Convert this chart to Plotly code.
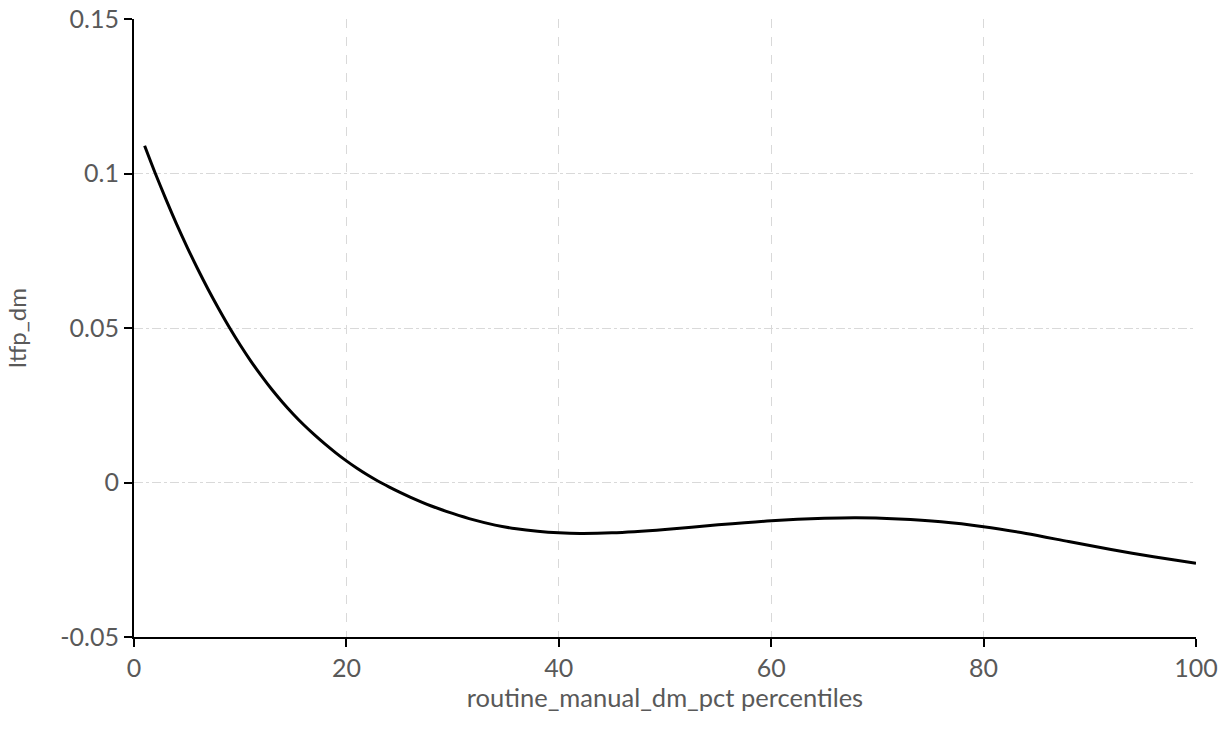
import plotly.graph_objects as go

pct = [1, 2, 3, 4, 5, 6, 7, 8, 9, 10, 11, 12, 13, 14, 15, 16, 17, 18, 19, 20,
       21, 22, 23, 24, 25, 26, 28, 30, 32, 34, 36, 38, 40, 42, 45, 50, 55,
       60, 65, 68, 72, 76, 80, 84, 88, 92, 96, 100]
ltfp = [0.1090, 0.1001, 0.0917, 0.0837, 0.0762, 0.0691, 0.0624, 0.0561, 0.0501,
        0.0445, 0.0393, 0.0345, 0.0300, 0.0259, 0.0221, 0.0186, 0.0154, 0.0124,
        0.0096, 0.0070, 0.0046, 0.0024, 0.0004, -0.0014, -0.0031, -0.0047,
        -0.0076, -0.0100, -0.0121, -0.0138, -0.0150, -0.0158, -0.0163,
        -0.0165, -0.0163, -0.0152, -0.0137, -0.0124, -0.0116, -0.0114, -0.0118,
        -0.0127, -0.0143, -0.0165, -0.0191, -0.0217, -0.0240, -0.0261]

x_ticks = [0, 20, 40, 60, 80, 100]
x_ticktext = ["0", "20", "40", "60", "80", "100"]
y_ticks = [-0.05, 0, 0.05, 0.1, 0.15]
y_ticktext = ["-0.05", "0", "0.05", "0.1", "0.15"]

font_family = "Lato, 'Open Sans', sans-serif"
grey = "#595959"

fig = go.Figure()
fig.add_trace(go.Scatter(x=pct, y=ltfp, mode="lines",
                         line=dict(color="black", width=3, shape="spline", smoothing=0.8),
                         showlegend=False, hoverinfo="skip"))

fig.update_layout(
    width=1225, height=739,
    margin=dict(l=134, r=29, t=19, b=102),
    paper_bgcolor="white", plot_bgcolor="white",
    font=dict(family=font_family, size=25, color=grey),
)
fig.update_xaxes(
    range=[0, 100], tickvals=x_ticks, ticktext=x_ticktext,
    automargin=False,
    showline=True, linecolor="black", linewidth=2,
    ticks="outside", ticklen=8, tickwidth=2, tickcolor="black",
    tickfont=dict(size=25, color=grey),
    showgrid=True, gridcolor="#d9d9d9", gridwidth=1, griddash="dash",
    zeroline=False,
    title=dict(text="routine_manual_dm_pct percentiles", standoff=8,
               font=dict(size=25.5, color=grey)),
)
fig.update_yaxes(
    range=[-0.05, 0.15], tickvals=y_ticks, ticktext=y_ticktext,
    automargin=False,
    showline=True, linecolor="black", linewidth=2,
    ticks="outside", ticklen=8, tickwidth=2, tickcolor="black",
    tickfont=dict(size=25, color=grey),
    showgrid=True, gridcolor="#d9d9d9", gridwidth=1, griddash="dashdot",
    zeroline=False,
    title=dict(text="ltfp_dm", standoff=27, font=dict(size=24, color=grey)),
)

fig.write_html("out.html")
